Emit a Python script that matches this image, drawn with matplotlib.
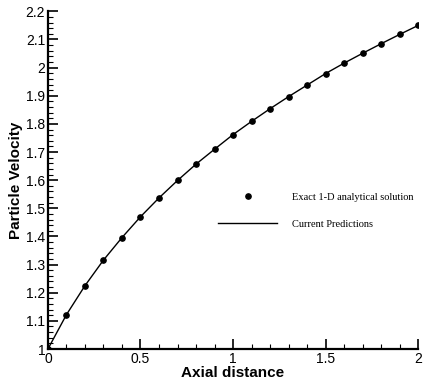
import matplotlib
matplotlib.use("Agg")
import matplotlib.pyplot as plt
from matplotlib.ticker import MultipleLocator

# Axial position and velocity
axial_distance = [0.0, 0.1, 0.2, 0.3, 0.4, 0.5, 0.6, 0.7, 0.8, 0.9, 1.0,
                  1.1, 1.2, 1.3, 1.4, 1.5, 1.6, 1.7, 1.8, 1.9, 2.0]
exact_velocity = [1.000, 1.122, 1.225, 1.316, 1.396, 1.470, 1.537, 1.599,
                  1.657, 1.710, 1.762, 1.809, 1.854, 1.897, 1.938, 1.979,
                  2.016, 2.051, 2.085, 2.118, 2.150]
predicted_velocity = exact_velocity

fig = plt.figure(figsize=(4.28, 3.85), dpi=100)
ax = fig.add_axes([0.112, 0.0935, 0.865, 0.877])

ax.plot(axial_distance, exact_velocity, 'o', color='black', markersize=3.8,
        label='Exact 1-D analytical solution')
ax.plot(axial_distance, predicted_velocity, '-', color='black', linewidth=1.0,
        label='Current Predictions')

ax.set_xlim(0, 2)
ax.set_ylim(1, 2.2)
ax.xaxis.set_major_locator(MultipleLocator(0.5))
ax.xaxis.set_minor_locator(MultipleLocator(0.1))
ax.yaxis.set_major_locator(MultipleLocator(0.1))
ax.yaxis.set_minor_locator(MultipleLocator(0.02))
ax.xaxis.set_major_formatter(plt.FuncFormatter(lambda v, p: f"{v:g}"))
ax.yaxis.set_major_formatter(plt.FuncFormatter(lambda v, p: f"{v:g}"))

ax.spines['top'].set_visible(False)
ax.spines['right'].set_visible(False)
ax.spines['left'].set_linewidth(1.6)
ax.spines['bottom'].set_linewidth(1.6)
ax.tick_params(which='major', direction='in', length=7, width=1.2, pad=2,
               labelsize=10, top=False, right=False)
ax.tick_params(which='minor', direction='in', length=3.5, width=0.8,
               top=False, right=False)
for lbl in ax.get_xticklabels() + ax.get_yticklabels():
    lbl.set_family('Liberation Sans')

ax.set_xlabel('Axial distance', fontsize=11, fontweight='bold',
              family='Liberation Sans', labelpad=0)
ax.set_ylabel('Particle Velocity', fontsize=11, fontweight='bold',
              family='Liberation Sans', labelpad=2)

ax.legend(loc='upper left', bbox_to_anchor=(0.435, 0.492), frameon=False,
          prop={'family': 'Liberation Serif', 'size': 7.5},
          handlelength=5.6, handletextpad=1.5, labelspacing=1.75)

fig.savefig('out.png', dpi=100)
